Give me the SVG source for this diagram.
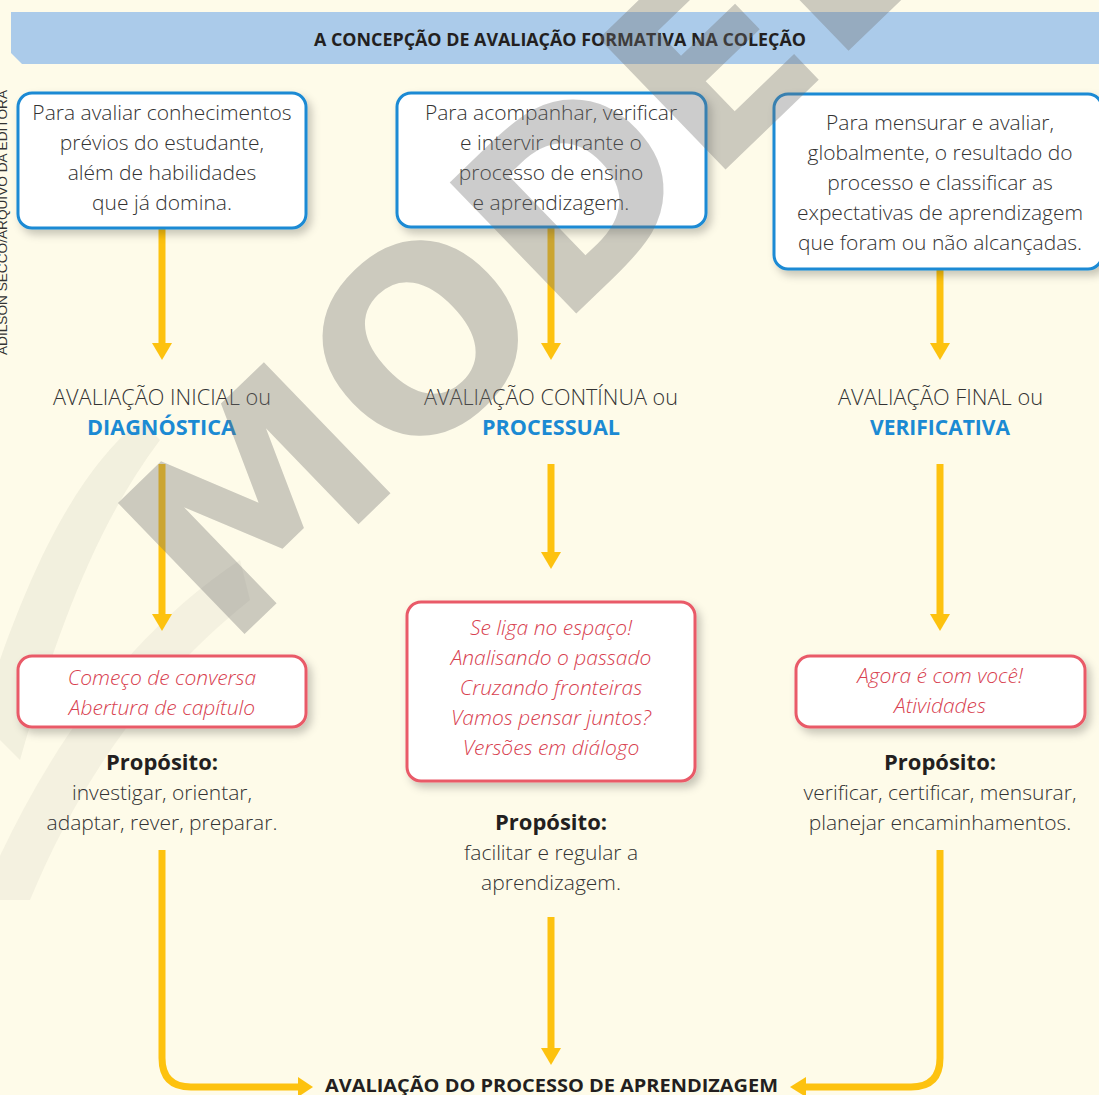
<svg xmlns="http://www.w3.org/2000/svg" width="1099" height="1095" viewBox="0 0 1099 1095">
<defs>
<filter id="sh" x="-10%" y="-10%" width="125%" height="135%">
<feDropShadow dx="4" dy="5" stdDeviation="4" flood-color="#000" flood-opacity="0.22"/>
</filter>
<style>
.t{font-family:"Open Sans","Noto Sans",sans-serif;font-weight:300;font-size:21px;fill:#333;text-anchor:middle}
.r{font-family:"Open Sans","Noto Sans",sans-serif;font-weight:300;font-style:italic;font-size:21px;fill:#d8414f;text-anchor:middle}
.b{font-family:"Open Sans","Noto Sans",sans-serif;font-weight:700;font-size:22px;fill:#231f20;text-anchor:middle}
.lab{font-family:"Open Sans","Noto Sans",sans-serif;font-weight:300;font-size:22px;fill:#333}
.blu{font-family:"Open Sans","Noto Sans",sans-serif;font-weight:700;font-size:22px;fill:#1b8ad3}
.hd{font-family:"Open Sans","Noto Sans",sans-serif;font-weight:700;font-size:18px;fill:#231f20}
.bbox{fill:#fff;stroke:#1a8ad4;stroke-width:3}
.rbox{fill:#fff;stroke:#e95a68;stroke-width:3}
.ln{fill:none;stroke:#fdc20f;stroke-width:7}
.hdp{fill:#fdc20f}
</style>
</defs>
<rect width="1099" height="1095" fill="#fefbe9"/>
<path d="M-20,720 C30,560 80,470 140,420 L160,440 C100,520 60,620 20,760 Z" fill="#c9c7b6" opacity="0.22"/>
<path d="M-20,900 C40,760 120,640 240,560 L250,600 C150,680 80,780 30,900 Z" fill="#c9c7b6" opacity="0.18"/>
<text transform="translate(7,355) rotate(-90)" font-family="Liberation Sans,Arial,sans-serif" font-size="12" fill="#333" textLength="265" lengthAdjust="spacingAndGlyphs">ADILSON SECCO/ARQUIVO DA EDITORA</text>
<g id="header">
<path d="M11,12 H1099 V64 H22 L11,53 Z" fill="#abcbea"/>
<text class="hd" x="314" y="46" textLength="492" lengthAdjust="spacingAndGlyphs">A CONCEPÇÃO DE AVALIAÇÃO FORMATIVA NA COLEÇÃO</text>
</g>
<g id="connectors">
<line class="ln" x1="162" y1="228" x2="162" y2="345"/><polygon class="hdp" points="152,343 172,343 162,360"/>
<line class="ln" x1="551" y1="227" x2="551" y2="345"/><polygon class="hdp" points="541,343 561,343 551,360"/>
<line class="ln" x1="940" y1="269" x2="940" y2="345"/><polygon class="hdp" points="930,343 950,343 940,360"/>
<line class="ln" x1="162" y1="464" x2="162" y2="616"/><polygon class="hdp" points="152,614 172,614 162,631"/>
<line class="ln" x1="551" y1="464" x2="551" y2="554"/><polygon class="hdp" points="541,552 561,552 551,569"/>
<line class="ln" x1="940" y1="464" x2="940" y2="616"/><polygon class="hdp" points="930,614 950,614 940,631"/>
<path class="ln" d="M162,850 V1058 Q162,1087 191,1087 H300"/><polygon class="hdp" points="298,1077 313,1087 298,1097"/>
<path class="ln" d="M940,850 V1058 Q940,1087 911,1087 H805"/><polygon class="hdp" points="806,1077 790,1087 806,1097"/>
<line class="ln" x1="551" y1="917" x2="551" y2="1050"/><polygon class="hdp" points="541,1048 561,1048 551,1065"/>
</g>
<g id="box1">
<rect class="bbox" x="18" y="93" width="288" height="135" rx="14" filter="url(#sh)"/>
<text class="t" x="162" y="120">Para avaliar conhecimentos</text>
<text class="t" x="162" y="150">prévios do estudante,</text>
<text class="t" x="162" y="180">além de habilidades</text>
<text class="t" x="162" y="210">que já domina.</text>
</g>
<g id="box2">
<rect class="bbox" x="397" y="93" width="309" height="134" rx="14" filter="url(#sh)"/>
<text class="t" x="551" y="120">Para acompanhar, verificar</text>
<text class="t" x="551" y="150">e intervir durante o</text>
<text class="t" x="551" y="180">processo de ensino</text>
<text class="t" x="551" y="210">e aprendizagem.</text>
</g>
<g id="box3">
<rect class="bbox" x="774" y="94" width="328" height="175" rx="14" filter="url(#sh)"/>
<text class="t" x="940" y="130">Para mensurar e avaliar,</text>
<text class="t" x="940" y="160">globalmente, o resultado do</text>
<text class="t" x="940" y="190">processo e classificar as</text>
<text class="t" x="940" y="220">expectativas de aprendizagem</text>
<text class="t" x="940" y="250">que foram ou não alcançadas.</text>
</g>
<g id="label1">
<text class="lab" x="53" y="405" textLength="218" lengthAdjust="spacingAndGlyphs">AVALIAÇÃO INICIAL ou</text>
<text class="blu" x="87" y="435" textLength="149" lengthAdjust="spacingAndGlyphs">DIAGNÓSTICA</text>
</g>
<g id="label2">
<text class="lab" x="424" y="405" textLength="254" lengthAdjust="spacingAndGlyphs">AVALIAÇÃO CONTÍNUA ou</text>
<text class="blu" x="482" y="435" textLength="138" lengthAdjust="spacingAndGlyphs">PROCESSUAL</text>
</g>
<g id="label3">
<text class="lab" x="838" y="405" textLength="205" lengthAdjust="spacingAndGlyphs">AVALIAÇÃO FINAL ou</text>
<text class="blu" x="870" y="435" textLength="140" lengthAdjust="spacingAndGlyphs">VERIFICATIVA</text>
</g>
<g id="boxA">
<rect class="rbox" x="18" y="656" width="288" height="71" rx="14" filter="url(#sh)"/>
<text class="r" x="162" y="685">Começo de conversa</text>
<text class="r" x="162" y="715">Abertura de capítulo</text>
</g>
<g id="boxB">
<rect class="rbox" x="407" y="602" width="288" height="179" rx="14" filter="url(#sh)"/>
<text class="r" x="551" y="635">Se liga no espaço!</text>
<text class="r" x="551" y="665">Analisando o passado</text>
<text class="r" x="551" y="695">Cruzando fronteiras</text>
<text class="r" x="551" y="725">Vamos pensar juntos?</text>
<text class="r" x="551" y="755">Versões em diálogo</text>
</g>
<g id="boxC">
<rect class="rbox" x="796" y="656" width="289" height="71" rx="14" filter="url(#sh)"/>
<text class="r" x="940" y="683">Agora é com você!</text>
<text class="r" x="940" y="713">Atividades</text>
</g>
<g id="purpose1">
<text class="b" x="162" y="770">Propósito:</text>
<text class="t" x="162" y="800">investigar, orientar,</text>
<text class="t" x="162" y="830">adaptar, rever, preparar.</text>
</g>
<g id="purpose2">
<text class="b" x="551" y="830">Propósito:</text>
<text class="t" x="551" y="860">facilitar e regular a</text>
<text class="t" x="551" y="890">aprendizagem.</text>
</g>
<g id="purpose3">
<text class="b" x="940" y="770">Propósito:</text>
<text class="t" x="940" y="800">verificar, certificar, mensurar,</text>
<text class="t" x="940" y="830">planejar encaminhamentos.</text>
</g>
<g id="final">
<text class="hd" x="325" y="1092" font-size="20" textLength="453" lengthAdjust="spacingAndGlyphs">AVALIAÇÃO DO PROCESSO DE APRENDIZAGEM</text>
</g>
<text transform="translate(228,650) rotate(-44)" font-family="DejaVu Sans,sans-serif" font-weight="700" font-size="250" fill="#707070" opacity="0.35">MODELO</text>
</svg>
